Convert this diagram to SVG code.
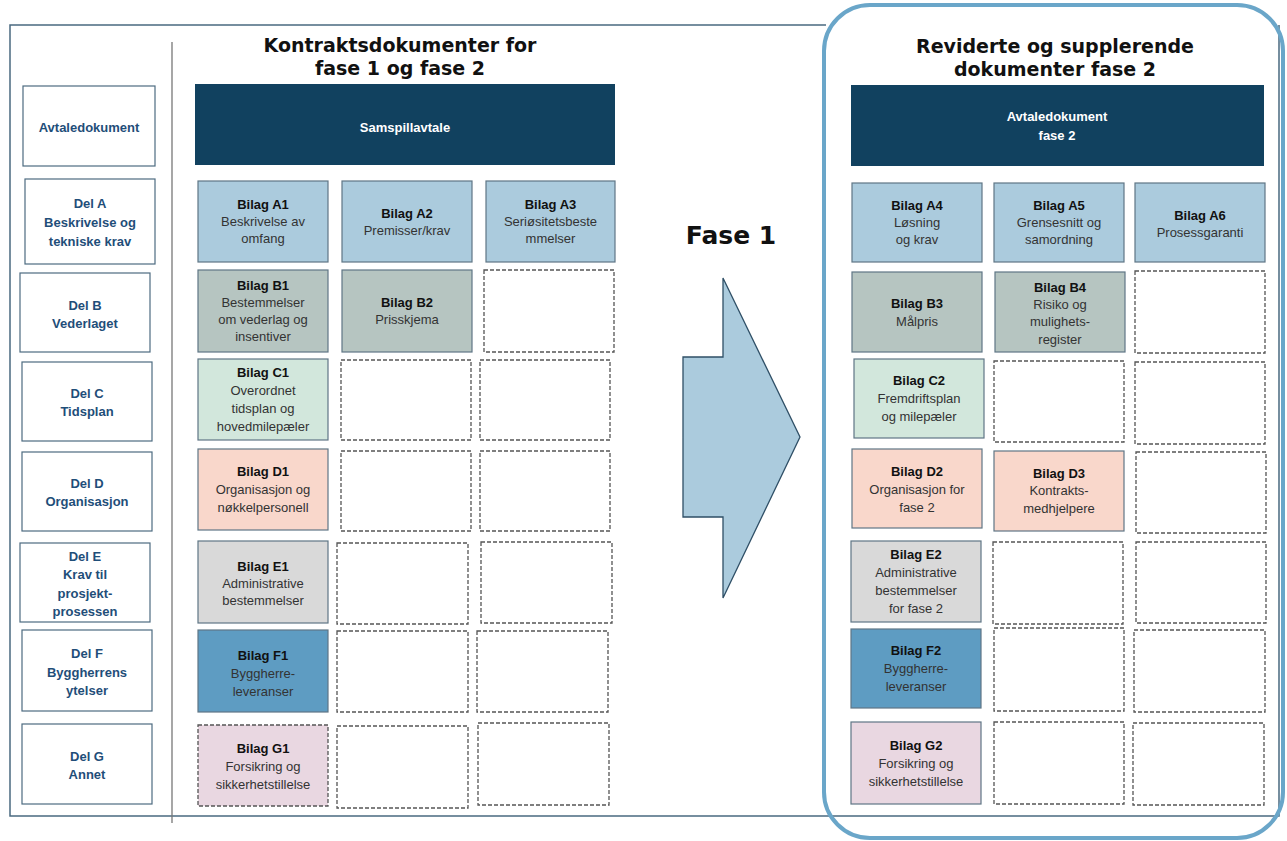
<svg xmlns="http://www.w3.org/2000/svg" width="1287" height="841" viewBox="0 0 1287 841">
<style>
.bx{stroke:#5f7685;stroke-width:1.2}
.dash{fill:#fff;stroke:#555;stroke-width:1.3;stroke-dasharray:4 2}
.lab{fill:#fff;stroke:#4d6b80;stroke-width:1.2}
.a{fill:#abcbdd}.b{fill:#b6c5c1}.c{fill:#d2e7dc}.d{fill:#f9d7cb}.e{fill:#d9d9d9}.f{fill:#5e9cc2}.g{fill:#e9d7e1}
.t{font-family:"Liberation Sans",Arial,sans-serif;font-size:13px;fill:#333;text-anchor:middle}
.tb{font-weight:bold;fill:#111}
.lt{font-family:"Liberation Sans",Arial,sans-serif;font-size:13px;font-weight:bold;fill:#1f4e79;text-anchor:middle}
.wt{font-family:"Liberation Sans",Arial,sans-serif;font-size:13px;font-weight:bold;fill:#fff;text-anchor:middle}
.hd{font-family:"DejaVu Sans",Verdana,sans-serif;font-size:19px;font-weight:bold;fill:#111;text-anchor:middle}
</style>
<rect width="1287" height="841" fill="#fff"/>
<path d="M826,25 H10 V816 H1279 V25" fill="none" stroke="#4a6a80" stroke-width="1.5"/>
<line x1="172" y1="42" x2="172" y2="823" stroke="#777" stroke-width="1.3"/>
<rect x="824" y="5" width="459" height="833" rx="46" fill="none" stroke="#6aa6c9" stroke-width="4"/>

<g id="headers">
<text class="hd" x="400" y="52">Kontraktsdokumenter for</text>
<text class="hd" x="400" y="75">fase 1 og fase 2</text>
<text class="hd" x="1055" y="53">Reviderte og supplerende</text>
<text class="hd" x="1055" y="76">dokumenter fase 2</text>
</g>

<g id="labels">
<g id="lab-avtale"><rect class="lab" x="23" y="86" width="132" height="80"/><text class="lt" x="89" y="131.5">Avtaledokument</text></g>
<g id="lab-A"><rect class="lab" x="25" y="179" width="130" height="85"/><text class="lt" x="90" y="207.5">Del A</text><text class="lt" x="90" y="226.5">Beskrivelse og</text><text class="lt" x="90" y="245.5">tekniske krav</text></g>
<g id="lab-B"><rect class="lab" x="20" y="273" width="130" height="79"/><text class="lt" x="85" y="309.5">Del B</text><text class="lt" x="85" y="327.5">Vederlaget</text></g>
<g id="lab-C"><rect class="lab" x="22" y="362" width="130" height="79"/><text class="lt" x="87" y="397.5">Del C</text><text class="lt" x="87" y="415.5">Tidsplan</text></g>
<g id="lab-D"><rect class="lab" x="22" y="452" width="130" height="79"/><text class="lt" x="87" y="487.5">Del D</text><text class="lt" x="87" y="505.5">Organisasjon</text></g>
<g id="lab-E"><rect class="lab" x="20" y="543" width="130" height="79"/><text class="lt" x="85" y="560.5">Del E</text><text class="lt" x="85" y="578.5">Krav til</text><text class="lt" x="85" y="597.5">prosjekt-</text><text class="lt" x="85" y="615.5">prosessen</text></g>
<g id="lab-F"><rect class="lab" x="22" y="630" width="130" height="81"/><text class="lt" x="87" y="657.5">Del F</text><text class="lt" x="87" y="676.5">Byggherrens</text><text class="lt" x="87" y="694.5">ytelser</text></g>
<g id="lab-G"><rect class="lab" x="22" y="724" width="130" height="80"/><text class="lt" x="87" y="760.5">Del G</text><text class="lt" x="87" y="778.5">Annet</text></g>
</g>

<g id="samspillavtale"><rect x="195" y="84" width="420" height="81" fill="#11415f"/><text class="wt" x="405" y="131.5">Samspillavtale</text></g>
<g id="avtale2"><rect x="851" y="85" width="413" height="81" fill="#11415f"/><text class="wt" x="1057" y="120.5">Avtaledokument</text><text class="wt" x="1057" y="139.5">fase 2</text></g>

<g id="left-grid">
<g id="A1"><rect class="bx a" x="198" y="181" width="130" height="81"/><text class="t tb" x="263" y="209">Bilag A1</text><text class="t" x="263" y="226">Beskrivelse av</text><text class="t" x="263" y="243">omfang</text></g>
<g id="A2"><rect class="bx a" x="342" y="181" width="130" height="81"/><text class="t tb" x="407" y="217.5">Bilag A2</text><text class="t" x="407" y="234.5">Premisser/krav</text></g>
<g id="A3"><rect class="bx a" x="486" y="181" width="129" height="81"/><text class="t tb" x="550.5" y="209">Bilag A3</text><text class="t" x="550.5" y="226">Seriøsitetsbeste</text><text class="t" x="550.5" y="243">mmelser</text></g>
<g id="B1"><rect class="bx b" x="198" y="270" width="130" height="82"/><text class="t tb" x="263" y="290">Bilag B1</text><text class="t" x="263" y="307">Bestemmelser</text><text class="t" x="263" y="324">om vederlag og</text><text class="t" x="263" y="341">insentiver</text></g>
<g id="B2"><rect class="bx b" x="342" y="270" width="130" height="82"/><text class="t tb" x="407" y="307">Bilag B2</text><text class="t" x="407" y="324">Prisskjema</text></g>
<rect class="dash" x="484" y="270" width="130" height="82"/>
<g id="C1"><rect class="bx c" x="198" y="359" width="130" height="81"/><text class="t tb" x="263" y="377">Bilag C1</text><text class="t" x="263" y="395">Overordnet</text><text class="t" x="263" y="413">tidsplan og</text><text class="t" x="263" y="431">hovedmilepæler</text></g>
<rect class="dash" x="341" y="360" width="130" height="80"/>
<rect class="dash" x="480" y="360" width="130" height="80"/>
<g id="D1"><rect class="bx d" x="198" y="449" width="130" height="81"/><text class="t tb" x="263" y="476">Bilag D1</text><text class="t" x="263" y="494">Organisasjon og</text><text class="t" x="263" y="512">nøkkelpersonell</text></g>
<rect class="dash" x="341" y="451" width="130" height="80"/>
<rect class="dash" x="480" y="451" width="130" height="80"/>
<g id="E1"><rect class="bx e" x="198" y="541" width="130" height="82"/><text class="t tb" x="263" y="571">Bilag E1</text><text class="t" x="263" y="588">Administrative</text><text class="t" x="263" y="605">bestemmelser</text></g>
<rect class="dash" x="337" y="543" width="131" height="81"/>
<rect class="dash" x="481" y="542" width="131" height="81"/>
<g id="F1"><rect class="bx f" x="198" y="630" width="130" height="82"/><text class="t tb" x="263" y="659.5">Bilag F1</text><text class="t" x="263" y="677.5">Byggherre-</text><text class="t" x="263" y="695.5">leveranser</text></g>
<rect class="dash" x="337" y="631" width="131" height="81"/>
<rect class="dash" x="477" y="631" width="131" height="81"/>
<g id="G1"><rect class="g" x="198" y="725" width="130" height="81" stroke="#555" stroke-width="1.3" stroke-dasharray="4 2"/><text class="t tb" x="263" y="752.5">Bilag G1</text><text class="t" x="263" y="770.5">Forsikring og</text><text class="t" x="263" y="788.5">sikkerhetstillelse</text></g>
<rect class="dash" x="337" y="726" width="131" height="82"/>
<rect class="dash" x="478" y="723" width="131" height="82"/>
</g>

<g id="fase1">
<text x="731" y="244" font-family="DejaVu Sans,Verdana,sans-serif" font-size="25" font-weight="bold" fill="#111" text-anchor="middle">Fase 1</text>
<polygon points="683,357 723,357 723,278 800,437 723,598 723,517 683,517" fill="#abcbdd" stroke="#2f4f66" stroke-width="1.3"/>
</g>

<g id="right-grid">
<g id="A4"><rect class="bx a" x="852" y="183" width="130" height="79"/><text class="t tb" x="917" y="209.5">Bilag A4</text><text class="t" x="917" y="226.5">Løsning</text><text class="t" x="917" y="243.5">og krav</text></g>
<g id="A5"><rect class="bx a" x="994" y="183" width="130" height="79"/><text class="t tb" x="1059" y="209.5">Bilag A5</text><text class="t" x="1059" y="226.5">Grensesnitt og</text><text class="t" x="1059" y="243.5">samordning</text></g>
<g id="A6"><rect class="bx a" x="1135" y="183" width="130" height="79"/><text class="t tb" x="1200" y="219.5">Bilag A6</text><text class="t" x="1200" y="237">Prosessgaranti</text></g>
<g id="B3"><rect class="bx b" x="852" y="272" width="130" height="80"/><text class="t tb" x="917" y="307.5">Bilag B3</text><text class="t" x="917" y="325.5">Målpris</text></g>
<g id="B4"><rect class="bx b" x="995" y="272" width="130" height="80"/><text class="t tb" x="1060" y="291.5">Bilag B4</text><text class="t" x="1060" y="308.5">Risiko og</text><text class="t" x="1060" y="325.5">mulighets-</text><text class="t" x="1060" y="343.5">register</text></g>
<rect class="dash" x="1135" y="271" width="130" height="82"/>
<g id="C2"><rect class="bx c" x="854" y="359" width="130" height="79"/><text class="t tb" x="919" y="384.5">Bilag C2</text><text class="t" x="919" y="402.5">Fremdriftsplan</text><text class="t" x="919" y="421">og milepæler</text></g>
<rect class="dash" x="994" y="361" width="130" height="81"/>
<rect class="dash" x="1135" y="362" width="130" height="82"/>
<g id="D2"><rect class="bx d" x="852" y="449" width="130" height="79"/><text class="t tb" x="917" y="475.5">Bilag D2</text><text class="t" x="917" y="493.5">Organisasjon for</text><text class="t" x="917" y="511.5">fase 2</text></g>
<g id="D3"><rect class="bx d" x="994" y="451" width="130" height="80"/><text class="t tb" x="1059" y="477.5">Bilag D3</text><text class="t" x="1059" y="494.5">Kontrakts-</text><text class="t" x="1059" y="512.5">medhjelpere</text></g>
<rect class="dash" x="1136" y="452" width="130" height="81"/>
<g id="E2"><rect class="bx e" x="851" y="541" width="130" height="81"/><text class="t tb" x="916" y="558.5">Bilag E2</text><text class="t" x="916" y="576.5">Administrative</text><text class="t" x="916" y="594.5">bestemmelser</text><text class="t" x="916" y="612.5">for fase 2</text></g>
<rect class="dash" x="993" y="542" width="130" height="82"/>
<rect class="dash" x="1136" y="542" width="130" height="81"/>
<g id="F2"><rect class="bx f" x="851" y="629" width="130" height="79"/><text class="t tb" x="916" y="654.5">Bilag F2</text><text class="t" x="916" y="672.5">Byggherre-</text><text class="t" x="916" y="690.5">leveranser</text></g>
<rect class="dash" x="994" y="628" width="130" height="83"/>
<rect class="dash" x="1134" y="630" width="131" height="82"/>
<g id="G2"><rect class="bx g" x="851" y="722" width="130" height="82"/><text class="t tb" x="916" y="749.5">Bilag G2</text><text class="t" x="916" y="767.5">Forsikring og</text><text class="t" x="916" y="785.5">sikkerhetstillelse</text></g>
<rect class="dash" x="994" y="722" width="130" height="82"/>
<rect class="dash" x="1133" y="723" width="131" height="82"/>
</g>
<g id="connectors"></g>
</svg>
